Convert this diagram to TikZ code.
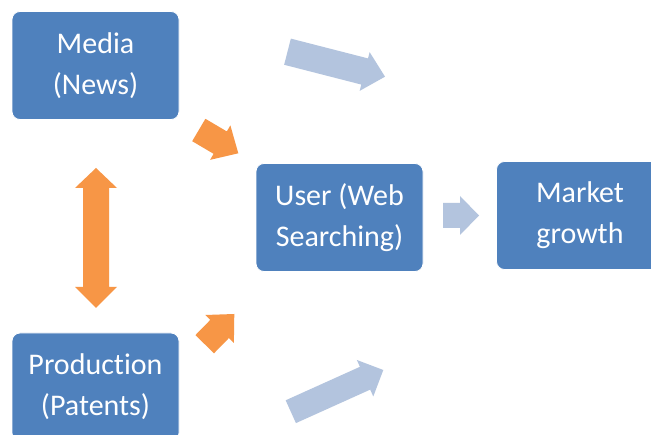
\documentclass[tikz,border=0pt]{standalone}
\usepackage{fontspec}
\setmainfont{Carlito}[Ligatures={NoCommon,NoContextual}]
\usetikzlibrary{calc}

\definecolor{boxblue}{HTML}{4F81BD}
\definecolor{flowgray}{HTML}{B3C4DE}
\definecolor{linkorange}{HTML}{F79646}

\tikzset{
  stage/.style={draw=white, line width=0.8pt, fill=boxblue, rounded corners=8pt,
    minimum width=167pt, minimum height=108pt, inner sep=0pt,
    text=white, align=center, font=\fontsize{30}{41}\selectfont},
  flow/.style={fill=flowgray},
  link/.style={fill=linkorange}
}

% block arrow: #1 style, #2 tail, #3 tip, #4 half shaft, #5 half head, #6 head length
\newcommand\blockarrow[6]{%
  \path ($(#3)!#6!(#2)$) coordinate (ba-base);
  \fill[#1] ($(#2)!#4!90:(#3)$) -- ($(ba-base)!#4!90:(#3)$)
    -- ($(ba-base)!#5!90:(#3)$) -- (#3)
    -- ($(ba-base)!#5!-90:(#3)$) -- ($(ba-base)!#4!-90:(#3)$)
    -- ($(#2)!#4!-90:(#3)$) -- cycle;
}

\begin{document}
\begin{tikzpicture}[x=1pt, y=-1pt]
  \useasboundingbox (0,0) rectangle (651,435);
  \clip (0,0) rectangle (651,435);
  \fill[white] (0,0) rectangle (651,435);

  % stages
  \node[stage] (media)      at (95.5,65.5) {Media\\(News)};
  \node[stage] (user)       at (339.5,217.5) {User (Web\\Searching)};
  \node[stage] (market)     at (580,215.5) {Market\\growth};
  \node[stage] (production) at (95.5,387) {Production\\(Patents)};

  % arrow anchors
  \coordinate (mu-t) at (198.8,130);   \coordinate (mu-h) at (238.3,153.3);
  \coordinate (pu-t) at (204.7,344.2); \coordinate (pu-h) at (234.3,314);
  \coordinate (um-t) at (443,215.5);   \coordinate (um-h) at (479,215.5);
  \coordinate (mo-t) at (287.5,51.7);  \coordinate (mo-h) at (385,76.7);
  \coordinate (po-t) at (290.8,411.7); \coordinate (po-h) at (383.3,370);

  % light flow arrows
  \blockarrow{flow}{mo-t}{mo-h}{13.5pt}{20pt}{21pt}
  \blockarrow{flow}{po-t}{po-h}{12.5pt}{20pt}{20pt}
  \blockarrow{flow}{um-t}{um-h}{12.5pt}{19.5pt}{19pt}

  % orange links into the user stage
  \blockarrow{link}{mu-t}{mu-h}{13pt}{20pt}{21pt}
  \blockarrow{link}{pu-t}{pu-h}{13pt}{20pt}{21pt}

  % two-headed link between media and production
  \fill[link] (96,168) -- (117,188) -- (109,188) -- (109,287) -- (117,287)
    -- (96,308) -- (75,287) -- (83,287) -- (83,188) -- (75,188) -- cycle;
\end{tikzpicture}
\end{document}
